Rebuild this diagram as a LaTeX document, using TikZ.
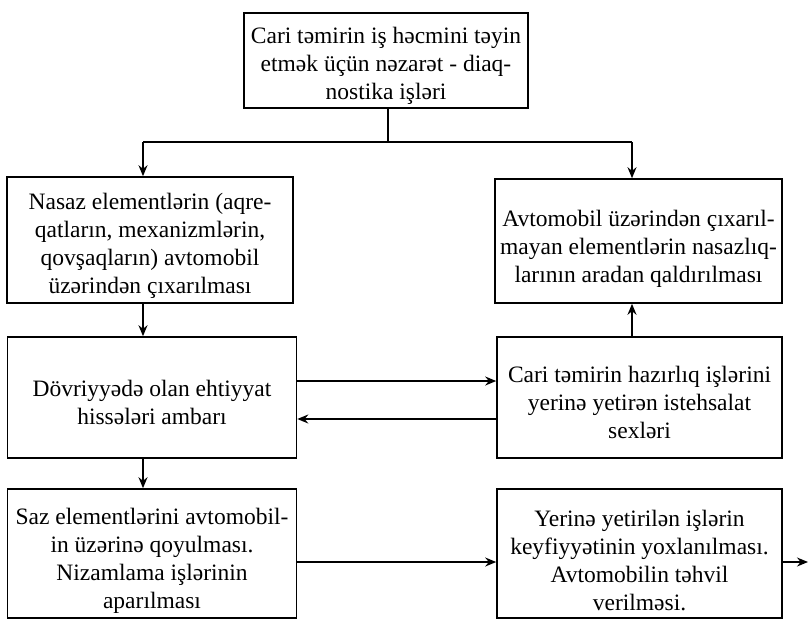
\documentclass[tikz,border=0pt]{standalone}
\usepackage{fontspec}
\setmainfont{Liberation Serif}
\usetikzlibrary{arrows.meta}
\newcommand{\tsA}{\rule{0pt}{27pt}}
\newcommand{\tsB}{\rule{0pt}{31pt}}
\begin{document}
\begin{tikzpicture}[x=1pt,y=-1pt,
  box/.style={draw,line width=1.6pt,rectangle,align=center,inner sep=0pt,
    font=\fontsize{23.5}{28}\selectfont},
  conn/.style={line width=1.5pt},
  arr/.style={conn,-{Stealth[length=11pt,width=9pt]}}]
\useasboundingbox (0,0) rectangle (808,619);
\node[box,minimum width=284pt,minimum height=95pt] (top) at (386,60.5)
  {\tsA Cari təmirin iş həcmini təyin\\etmək üçün nəzarət - diaq-\\nostika işləri};
\node[box,minimum width=286pt,minimum height=126pt] (l1) at (150,240)
  {\tsA Nasaz elementlərin (aqre-\\qatların, mexanizmlərin,\\qovşaqların) avtomobil\\üzərindən çıxarılması};
\node[box,minimum width=287pt,minimum height=124pt] (r1) at (638.5,241)
  {\tsB Avtomobil üzərindən çıxarıl-\\mayan elementlərin nasazlıq-\\larının aradan qaldırılması};
\node[box,minimum width=289pt,minimum height=121pt] (l2) at (152,397.5)
  {\tsA Dövriyyədə olan ehtiyyat\\hissələri ambarı};
\node[box,minimum width=285pt,minimum height=121pt] (r2) at (639.5,397.5)
  {\tsA Cari təmirin hazırlıq işlərini\\yerinə yetirən istehsalat\\sexləri};
\node[box,minimum width=289pt,minimum height=129pt] (l3) at (152,553.5)
  {\tsB Saz elementlərini avtomobil-\\in üzərinə qoyulması.\\Nizamlama işlərinin\\aparılması};
\node[box,minimum width=285pt,minimum height=129pt] (r3) at (639.5,553.5)
  {\tsB Yerinə yetirilən işlərin\\keyfiyyətinin yoxlanılması.\\Avtomobilin təhvil\\verilməsi.};
\coordinate (j) at (388,142);
\coordinate (jl) at (143,142);
\coordinate (jr) at (632,142);
\coordinate (out) at (808,562);
\draw[conn] (top.south -| j) -- (j);
\draw[conn] (jl) -- (jr);
\draw[arr] (jl) -- (jl |- l1.north);
\draw[arr] (jr) -- (jr |- r1.north);
\draw[arr] (jl |- l1.south) -- (jl |- l2.north);
\draw[arr] (jl |- l2.south) -- (jl |- l3.north);
\draw[arr] (jr |- r2.north) -- (jr |- r1.south);
\draw[arr] ([yshift=16.5pt]l2.east) -- ([yshift=16.5pt]l2.east -| r2.west);
\draw[arr] ([yshift=-21.5pt]r2.west) -- ([yshift=-21.5pt]r2.west -| l2.east);
\draw[arr] (l3.east |- out) -- (r3.west |- out);
\draw[arr] (r3.east |- out) -- (out);
\end{tikzpicture}
\end{document}
